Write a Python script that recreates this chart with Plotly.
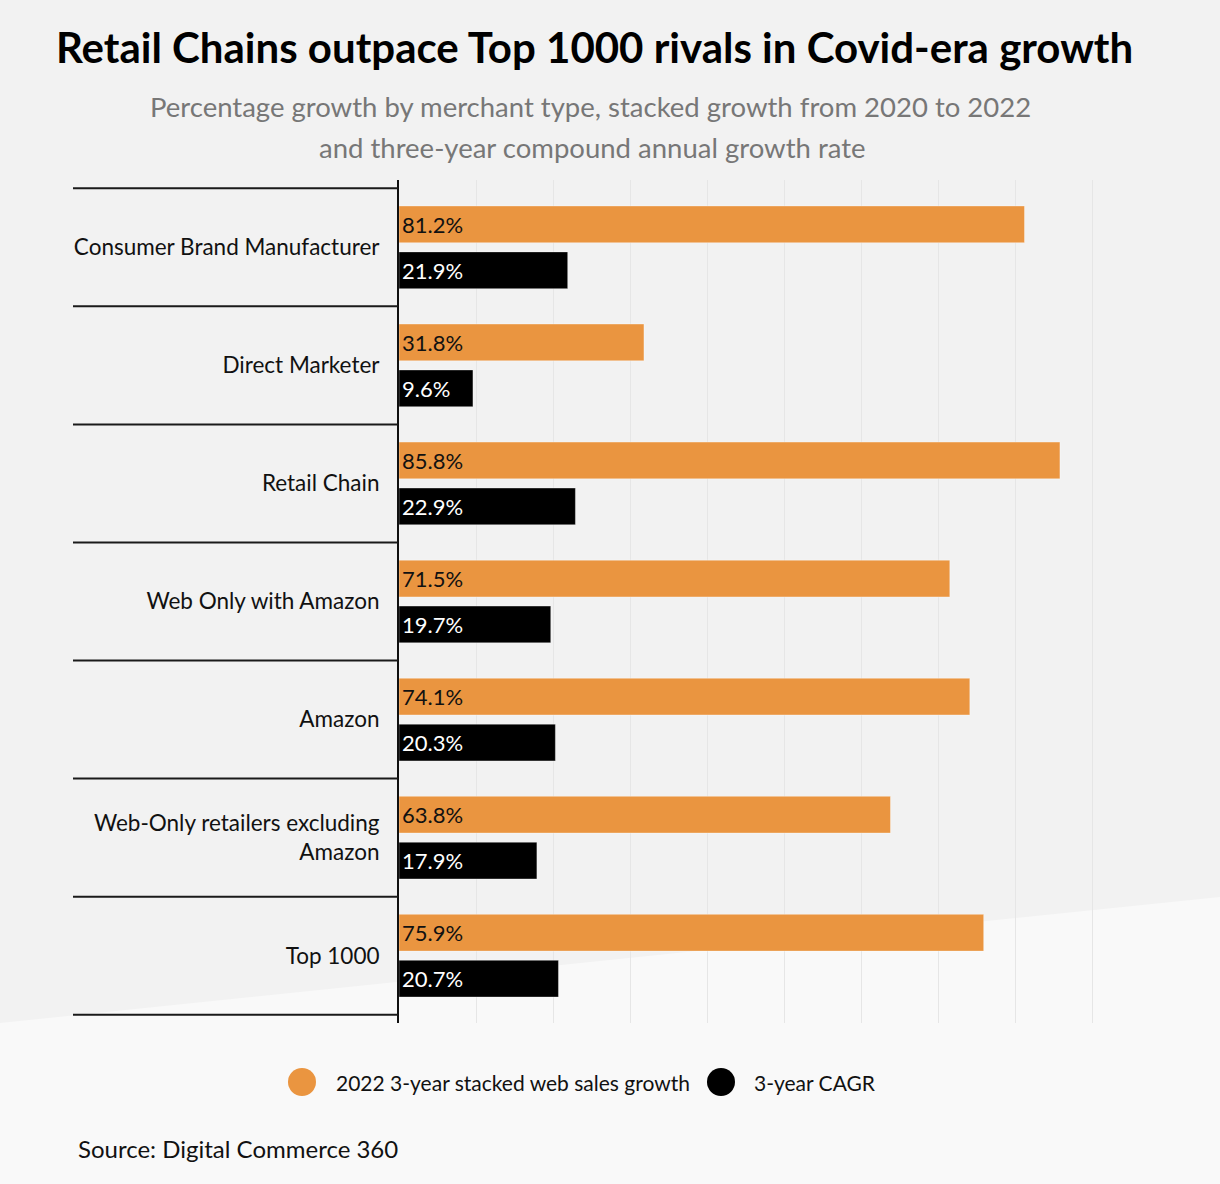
import plotly.graph_objects as go

categories = ["Consumer Brand Manufacturer", "Direct Marketer", "Retail Chain",
              "Web Only with Amazon", "Amazon", "Web-Only retailers excluding<br>Amazon", "Top 1000"]
stacked_growth = [81.2, 31.8, 85.8, 71.5, 74.1, 63.8, 75.9]
cagr = [21.9, 9.6, 22.9, 19.7, 20.3, 17.9, 20.7]
series_names = ["2022 3-year stacked web sales growth", "3-year CAGR"]
x_ticks = list(range(0, 100, 10))

W, H = 1220, 1184
L, R, T, B = 399, 1100, 180, 1023
ORANGE = "#EA9540"
FONT = "Lato"

def px(x):
    return (x - L) / (R - L)

def py(y):
    return (B - y) / (B - T)

fig = go.Figure()
fig.add_trace(go.Bar(
    y=categories, x=stacked_growth, orientation="h", name=series_names[0],
    marker=dict(color=ORANGE, line=dict(color="rgba(255,255,255,0.35)", width=1)),
    text=[f"{v:.1f}%" for v in stacked_growth], textposition="inside",
    insidetextanchor="start", textangle=0, constraintext="none",
    textfont=dict(family=FONT, size=22, color="#111111"), showlegend=False,
    hoverinfo="skip"))
fig.add_trace(go.Bar(
    y=categories, x=cagr, orientation="h", name=series_names[1],
    marker=dict(color="#000000", line=dict(color="rgba(255,255,255,0.35)", width=1)),
    text=[f"{v:.1f}%" for v in cagr], textposition="inside",
    insidetextanchor="start", textangle=0, constraintext="none",
    textfont=dict(family=FONT, size=22, color="#FFFFFF"), showlegend=False,
    hoverinfo="skip"))

shapes = []
# lighter diagonal background region
shapes.append(dict(
    type="path", xref="paper", yref="paper", layer="below",
    path=f"M {px(0)} {py(1023)} L {px(1220)} {py(897)} L {px(1220)} {py(1184)} L {px(0)} {py(1184)} Z",
    fillcolor="#F9F9F9", line=dict(width=0)))
# category separators
for k in range(len(categories) + 1):
    shapes.append(dict(type="line", xref="paper", yref="y", layer="above",
                       x0=px(73), x1=px(398), y0=k - 0.5, y1=k - 0.5,
                       line=dict(color="#1a1a1a", width=2)))
# legend circles
shapes.append(dict(type="circle", xref="paper", yref="paper", layer="above",
                   x0=px(288), x1=px(316), y0=py(1096), y1=py(1068),
                   fillcolor=ORANGE, line=dict(width=0)))
shapes.append(dict(type="circle", xref="paper", yref="paper", layer="above",
                   x0=px(707), x1=px(735), y0=py(1096), y1=py(1068),
                   fillcolor="#000000", line=dict(width=0)))

annotations = [
    dict(text="<b>Retail Chains outpace Top 1000 rivals in Covid-era growth</b>",
         x=px(594), y=py(47), xref="paper", yref="paper", showarrow=False,
         xanchor="center", yanchor="middle", font=dict(family=FONT, size=42, color="#000000")),
    dict(text="Percentage growth by merchant type, stacked growth from 2020 to 2022",
         x=px(590), y=py(106), xref="paper", yref="paper", showarrow=False,
         xanchor="center", yanchor="middle", font=dict(family=FONT, size=27.5, color="#777777")),
    dict(text="and three-year compound annual growth rate",
         x=px(592), y=py(148), xref="paper", yref="paper", showarrow=False,
         xanchor="center", yanchor="middle", font=dict(family=FONT, size=27.5, color="#777777")),
    dict(text=series_names[0], x=px(334), y=py(1082), xref="paper", yref="paper",
         showarrow=False, xanchor="left", yanchor="middle",
         font=dict(family=FONT, size=21, color="#111111")),
    dict(text=series_names[1], x=px(752), y=py(1082), xref="paper", yref="paper",
         showarrow=False, xanchor="left", yanchor="middle",
         font=dict(family=FONT, size=21, color="#111111")),
    dict(text="Source: Digital Commerce 360", x=px(76), y=py(1148), xref="paper", yref="paper",
         showarrow=False, xanchor="left", yanchor="middle",
         font=dict(family=FONT, size=24, color="#111111")),
]

fig.update_layout(
    width=W, height=H,
    margin=dict(l=L, r=W - R, t=T, b=H - B, pad=0),
    paper_bgcolor="#F2F2F2", plot_bgcolor="rgba(0,0,0,0)",
    barmode="group", bargap=0.222, bargroupgap=0.2,
    shapes=shapes, annotations=annotations, showlegend=False,
    xaxis=dict(range=[0, 91], tickvals=x_ticks, showticklabels=False, showgrid=True,
               gridcolor="#E6E6E6", gridwidth=1, zeroline=False, showline=False, ticks=""),
    yaxis=dict(range=[6.57, -0.57], showline=True, linecolor="#111111", linewidth=2,
               showgrid=False, zeroline=False, ticks="", ticklabelstandoff=13,
               tickfont=dict(family=FONT, size=22.5, color="#111111")),
    font=dict(family=FONT),
)

fig.write_html("out.html", config={"displayModeBar": False},
               post_script="document.body.style.margin='0';")
